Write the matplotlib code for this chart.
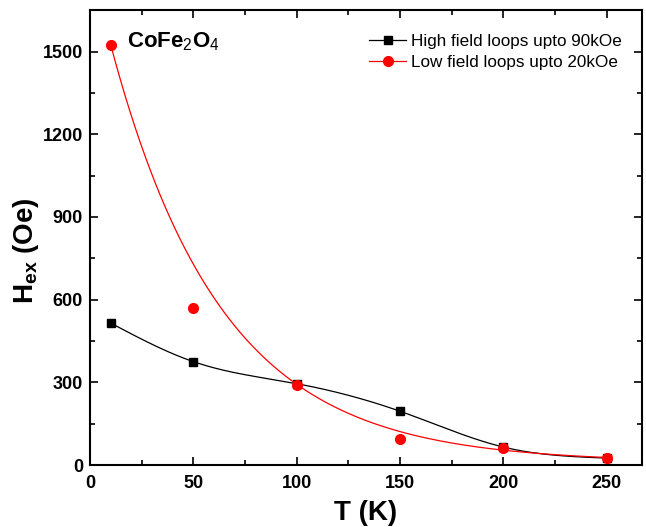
import numpy as np
import matplotlib
matplotlib.use("Agg")
import matplotlib.pyplot as plt
from matplotlib.ticker import MultipleLocator

plt.rcParams['font.family'] = ['Liberation Sans', 'DejaVu Sans']
plt.rcParams['mathtext.fontset'] = 'custom'
plt.rcParams['mathtext.rm'] = 'Liberation Sans:bold'
plt.rcParams['mathtext.it'] = 'Liberation Sans:bold'
plt.rcParams['mathtext.bf'] = 'Liberation Sans:bold'
plt.rcParams['mathtext.sf'] = 'Liberation Sans'
plt.rcParams['mathtext.default'] = 'rm'

# data
T_high = [10, 50, 100, 150, 200, 250]
H_high = [515, 375, 295, 195, 65, 25]
T_low = [10, 50, 100, 150, 200, 250]
H_low = [1525, 570, 290, 95, 60, 25]

# exp decay fit of low-field data (y0 + A*exp(-x/t)), params
fit_y0 = 10
fit_A = 1826
fit_t = 53.6

label_high = "High field loops upto 90kOe"
label_low = "Low field loops upto 20kOe"


def natural_spline(x, y, n=300):
    # plain natural cubic spline, just for the connecting line
    x = np.asarray(x, float)
    y = np.asarray(y, float)
    k = len(x)
    h = np.diff(x)
    M = np.zeros((k, k))
    r = np.zeros(k)
    M[0, 0] = 1
    M[-1, -1] = 1
    for i in range(1, k - 1):
        M[i, i - 1] = h[i - 1]
        M[i, i] = 2 * (h[i - 1] + h[i])
        M[i, i + 1] = h[i]
        r[i] = 6 * ((y[i + 1] - y[i]) / h[i] - (y[i] - y[i - 1]) / h[i - 1])
    m = np.linalg.solve(M, r)
    xs = np.linspace(x[0], x[-1], n)
    idx = np.clip(np.searchsorted(x, xs) - 1, 0, k - 2)
    x0, x1 = x[idx], x[idx + 1]
    hh = x1 - x0
    a = (x1 - xs) / hh
    b = (xs - x0) / hh
    ys = (a * y[idx] + b * y[idx + 1]
          + ((a ** 3 - a) * m[idx] + (b ** 3 - b) * m[idx + 1]) * hh ** 2 / 6)
    return xs, ys


fig = plt.figure(figsize=(6.46, 5.27), dpi=100)
ax = fig.add_axes([90 / 646, 62 / 527, 552 / 646, 455 / 527])

# black: spline through points
xs, ys = natural_spline(T_high, H_high)
ax.plot(xs, ys, color='black', lw=0.9)
ax.plot(T_high, H_high, 's', color='black', ms=6, ls='none')

# red: fit curve
xf = np.linspace(T_low[0], T_low[-1], 300)
ax.plot(xf, fit_y0 + fit_A * np.exp(-xf / fit_t), color='red', lw=0.9)
ax.plot(T_low, H_low, 'o', color='red', ms=7, ls='none')

# legend proxies
ax.plot([], [], '-s', color='black', ms=6, lw=0.9, label=label_high)
ax.plot([], [], '-o', color='red', ms=7, lw=0.9, label=label_low)
leg = ax.legend(handles=ax.lines[-2:], loc='upper left', bbox_to_anchor=(0.505, 0.948),
                frameon=False, fontsize=12.3, handlelength=2.2, handletextpad=0.3,
                labelspacing=0.35, borderpad=0, borderaxespad=0)

ax.text(18, 1517, r'CoFe$_{\mathsf{2}}$O$_{\mathsf{4}}$', fontsize=16,
        fontweight='bold', va='baseline')

ax.set_xlim(0, 267)
ax.set_ylim(0, 1651)
ax.xaxis.set_major_locator(MultipleLocator(50))
ax.xaxis.set_minor_locator(MultipleLocator(25))
ax.yaxis.set_major_locator(MultipleLocator(300))
ax.yaxis.set_minor_locator(MultipleLocator(150))
ax.tick_params(which='both', direction='in', top=True, right=True, width=1.2)
ax.tick_params(which='major', length=6, labelsize=13, pad=5)
ax.tick_params(axis='x', which='major', pad=7)
ax.tick_params(which='minor', length=3.5)
for lab in ax.get_xticklabels() + ax.get_yticklabels():
    lab.set_fontweight('bold')
for s in ax.spines.values():
    s.set_linewidth(1.5)

ax.set_xlabel('T (K)', fontsize=20, fontweight='bold', labelpad=6)
ax.set_ylabel(r'H$_{ex}$ (Oe)', fontsize=20, fontweight='bold')
ax.yaxis.set_label_coords(-0.088, 0.47)

fig.savefig('out.png', dpi=100)
